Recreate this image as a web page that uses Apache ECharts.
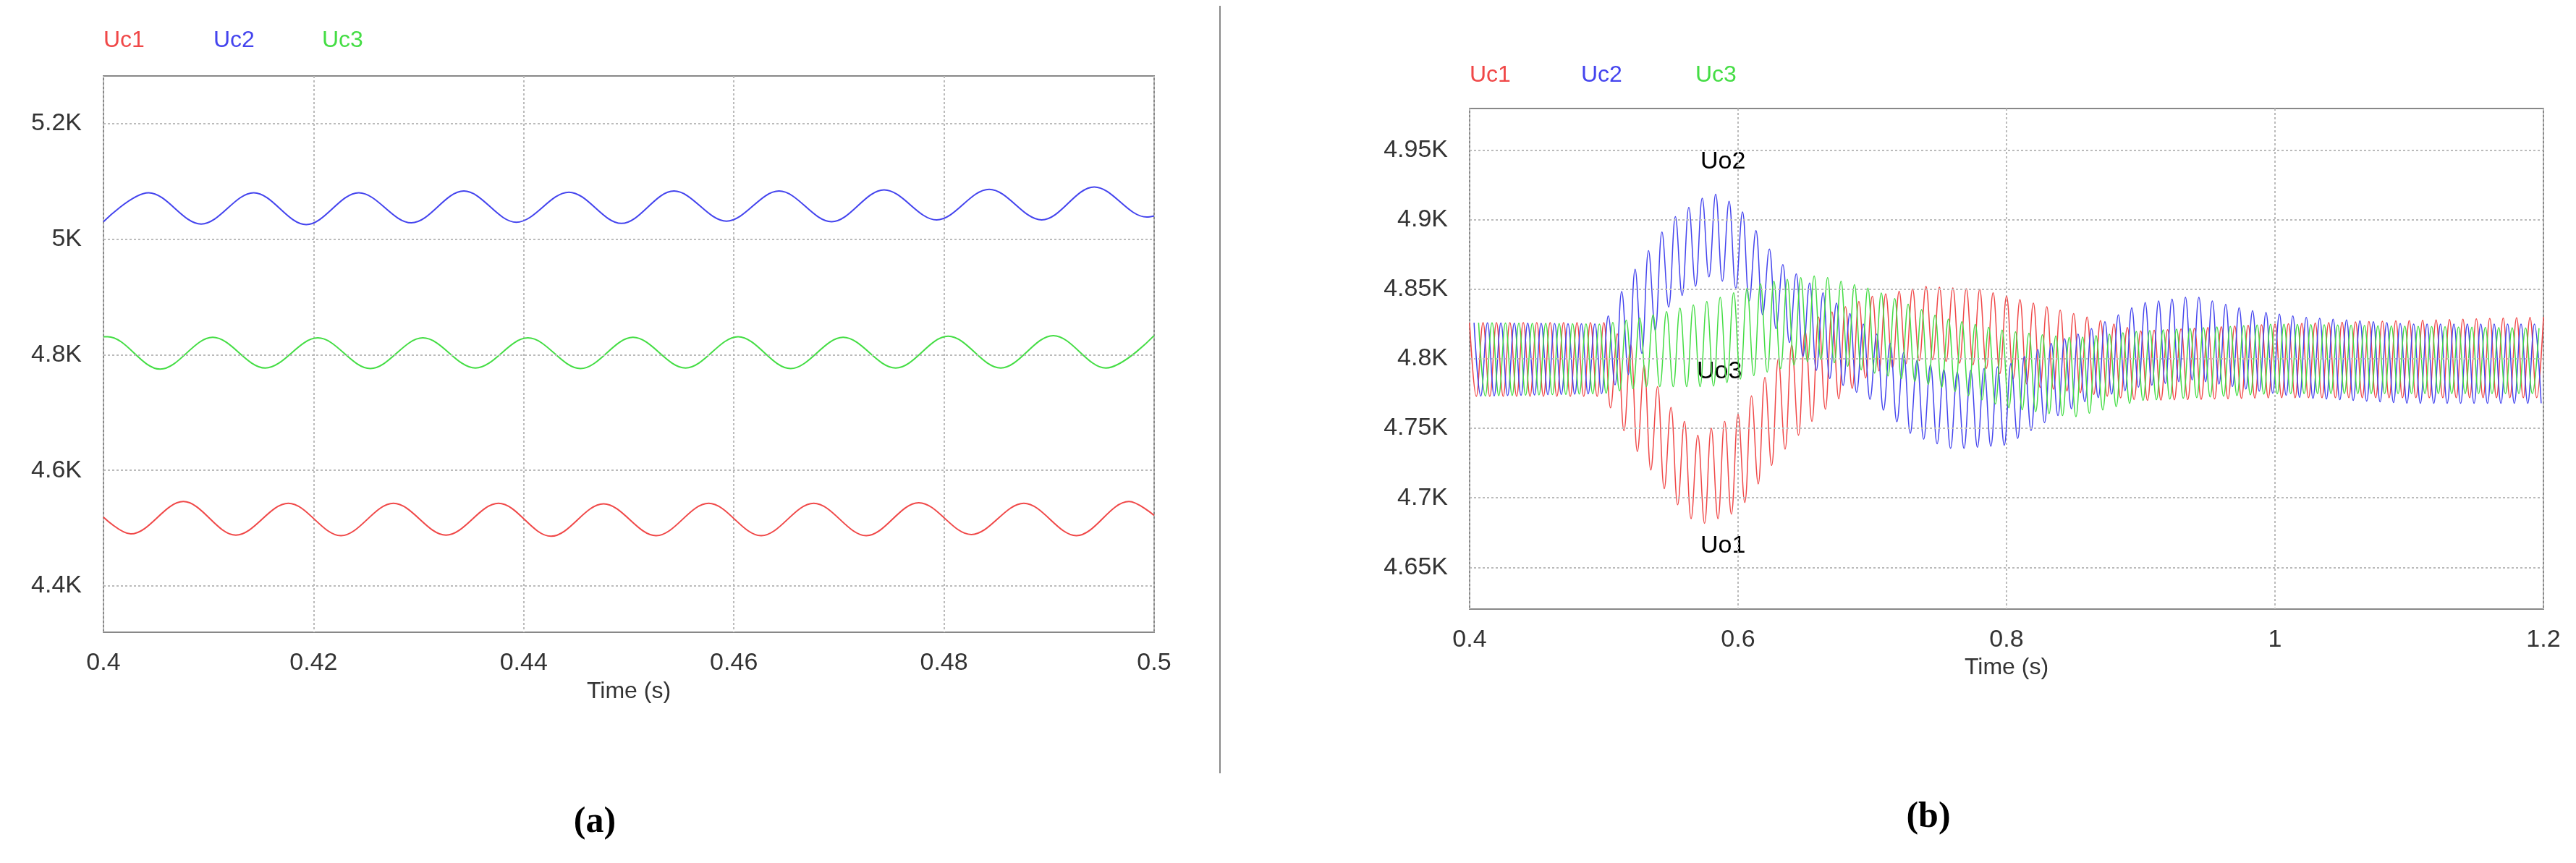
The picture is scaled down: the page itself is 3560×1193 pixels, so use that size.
<!DOCTYPE html><html><head><meta charset="utf-8">
<script src="https://cdn.jsdelivr.net/npm/echarts@6/dist/echarts.min.js"></script>
<style>html,body{margin:0;background:#fff}#c{width:3560px;height:1193px}</style></head><body><div id="c"></div>
<script>
// Chart (a): extreme values (period 0.01 s)
const aPeriod = 0.01;
const aXTicks = [0.4, 0.42, 0.44, 0.46, 0.48, 0.5];
const aYTicks = [4400, 4600, 4800, 5000, 5200];
const uc1FirstPeak = 0.4076, uc1Start = 4519, uc1End = 4522;
const uc1Peaks   = [4546, 4543, 4543, 4543, 4542, 4543, 4543, 4544, 4543, 4546];
const uc1Troughs = [4490, 4488, 4487, 4488, 4486, 4487, 4487, 4487, 4489, 4487];
const uc2FirstPeak = 0.4043, uc2Start = 5030, uc2End = 5040;
const uc2Peaks   = [5080, 5080, 5080, 5083, 5081, 5083, 5083, 5085, 5086, 5090];
const uc2Troughs = [5026, 5025, 5028, 5029, 5027, 5031, 5030, 5033, 5033, 5038];
const uc3FirstPeak = 0.4004, uc3Start = 4831, uc3End = 4833;
const uc3Peaks   = [4831, 4830, 4829, 4829, 4829, 4830, 4831, 4830, 4832, 4833, 4832];
const uc3Troughs = [4775, 4777, 4776, 4777, 4776, 4777, 4776, 4777, 4777, 4777];
// Chart (b): envelopes [time, lower, upper] (100 Hz ripple)
const bPeriod = 0.01;
const uc1Env = [[0.4,4773,4826],[0.5,4773,4826],[0.52,4740,4810],[0.55,4700,4765],[0.57,4680,4745],[0.6,4690,4760],[0.63,4730,4800],[0.66,4760,4830],[0.7,4790,4845],[0.74,4800,4852],[0.78,4795,4850],[0.82,4780,4840],[0.86,4775,4830],[0.9,4770,4820],[1.0,4772,4825],[1.2,4772,4830]];
const uc2Env = [[0.4,4773,4826],[0.5,4775,4825],[0.52,4790,4860],[0.55,4840,4900],[0.58,4860,4920],[0.6,4850,4910],[0.63,4820,4870],[0.66,4790,4850],[0.7,4770,4820],[0.73,4745,4800],[0.76,4735,4790],[0.8,4738,4795],[0.83,4755,4810],[0.86,4770,4820],[0.9,4780,4840],[0.94,4785,4845],[0.98,4778,4835],[1.02,4772,4830],[1.1,4768,4825],[1.2,4768,4825]];
const uc3Env = [[0.4,4773,4826],[0.5,4775,4825],[0.53,4780,4830],[0.58,4780,4842],[0.62,4790,4855],[0.66,4800,4860],[0.7,4790,4850],[0.75,4780,4830],[0.8,4765,4820],[0.85,4758,4815],[0.9,4770,4820],[1.0,4775,4825],[1.2,4775,4822]];
const bPhase = [0, 0.00333, 0.00667];
const bXTicks = [0.4, 0.6, 0.8, 1, 1.2];
const bYTicks = [4650, 4700, 4750, 4800, 4850, 4900, 4950];

function aSeries(start, firstPeak, peaks, troughs, end){
  const pts = [[0.4, start]];
  const firstTrough = firstPeak - aPeriod/2;
  if (firstTrough > 0.4) pts.push([firstTrough, troughs[0]]);
  let ti = firstTrough > 0.4 ? 1 : 0;
  for (let i=0;i<peaks.length;i++){
    const tp = firstPeak + i*aPeriod;
    if (tp > 0.4 && tp < 0.5) pts.push([tp, peaks[i]]);
    const tt = tp + aPeriod/2;
    if (tt < 0.5 && ti < troughs.length) { pts.push([tt, troughs[ti]]); ti++; }
  }
  pts.push([0.5, end]);
  return pts;
}
function envAt(env, t){
  for (let i=1;i<env.length;i++) if (t<=env[i][0]){
    const a=env[i-1], b=env[i], f=(t-a[0])/(b[0]-a[0]);
    return [a[1]+f*(b[1]-a[1]), a[2]+f*(b[2]-a[2])];
  }
  return [env[env.length-1][1], env[env.length-1][2]];
}
function bSeries(env, ph){
  const pts=[]; let k=0;
  for (let t=0.4+ph; t<=1.2; t+=bPeriod/2, k++){
    const e=envAt(env,t); pts.push([+t.toFixed(4), k%2===0? e[1]:e[0]]);
  }
  return pts;
}
const FONT='Liberation Sans';
const kfmt = v => (v/1000)+'K';
function axes(gi, xmin, xmax, xint, ymin, ymax){
  return {
    x:{type:'value',gridIndex:gi,min:xmin,max:xmax,interval:xint,name:'Time (s)',nameLocation:'middle',nameGap:gi===0?66:62,
      nameTextStyle:{fontFamily:FONT,fontSize:32,color:'#333'},
      axisLine:{show:false},axisTick:{show:false},
      axisLabel:{fontFamily:FONT,fontSize:34,color:'#333',margin:26,formatter:v=>String(+v.toFixed(3))},
      splitLine:{show:true,lineStyle:{color:'#bbb',type:[3,3],width:2}}},
    y:{type:'value',gridIndex:gi,min:ymin,max:ymax,interval:(gi===0?40:10),
      axisLine:{show:false},axisTick:{show:false},
      axisLabel:{fontFamily:FONT,fontSize:34,color:'#333',margin:30,
        formatter:v=>(gi===0?aYTicks:bYTicks).some(t=>Math.abs(t-v)<1e-6)?kfmt(v):''},
      splitLine:{show:false}}
  };
}
const A = axes(0,0.4,0.5,0.02,4320,5282);
const B = axes(1,0.4,1.2,0.2,4620,4980);
const RED='#f04848', BLUE='#4444ee', GREEN='#44dd44';
function line(data,color,gi,w,s){return {type:'line',xAxisIndex:gi,yAxisIndex:gi,data,showSymbol:false,smooth:s,lineStyle:{color,width:w},silent:true,animation:false};}
function hlines(gi, vals){return {type:'line',xAxisIndex:gi,yAxisIndex:gi,data:[],markLine:{silent:true,symbol:'none',label:{show:false},lineStyle:{color:'#bbb',type:[3,3],width:2},data:vals.map(v=>({yAxis:v}))}};}
const chart = echarts.init(document.getElementById('c'));
chart.setOption({
  backgroundColor:'#fff', animation:false,
  grid:[{left:143,top:105,width:1452,height:769,show:true,borderColor:'#888',borderWidth:2,backgroundColor:'#fff'},
        {left:2031,top:150,width:1484,height:692,show:true,borderColor:'#888',borderWidth:2,backgroundColor:'#fff'}],
  xAxis:[A.x,B.x], yAxis:[A.y,B.y],
  series:[
    hlines(0,aYTicks), hlines(1,bYTicks),
    line(aSeries(uc1Start,uc1FirstPeak,uc1Peaks,uc1Troughs,uc1End),RED,0,2,0.35),
    line(aSeries(uc2Start,uc2FirstPeak,uc2Peaks,uc2Troughs,uc2End),BLUE,0,2,0.35),
    line(aSeries(uc3Start,uc3FirstPeak,uc3Peaks,uc3Troughs,uc3End),GREEN,0,2,0.35),
    line(bSeries(uc1Env,bPhase[0]),RED,1,1.5,0.4),
    line(bSeries(uc2Env,bPhase[1]),BLUE,1,1.5,0.4),
    line(bSeries(uc3Env,bPhase[2]),GREEN,1,1.5,0.4)
  ],
  graphic:[
    {type:'line',shape:{x1:1686,y1:8,x2:1686,y2:1069},style:{stroke:'#888',lineWidth:2}},
    {type:'text',x:143,y:40,style:{text:'Uc1',fill:RED,font:'32px '+FONT}},
    {type:'text',x:295,y:40,style:{text:'Uc2',fill:BLUE,font:'32px '+FONT}},
    {type:'text',x:445,y:40,style:{text:'Uc3',fill:GREEN,font:'32px '+FONT}},
    {type:'text',x:2031,y:88,style:{text:'Uc1',fill:RED,font:'32px '+FONT}},
    {type:'text',x:2185,y:88,style:{text:'Uc2',fill:BLUE,font:'32px '+FONT}},
    {type:'text',x:2343,y:88,style:{text:'Uc3',fill:GREEN,font:'32px '+FONT}},
    {type:'text',x:2350,y:207,style:{text:'Uo2',fill:'#000',font:'34px '+FONT}},
    {type:'text',x:2345,y:497,style:{text:'Uo3',fill:'#000',font:'34px '+FONT}},
    {type:'text',x:2350,y:738,style:{text:'Uo1',fill:'#000',font:'34px '+FONT}},
    {type:'text',x:822,y:1137,style:{text:'(a)',fill:'#000',font:'bold 50px "Liberation Serif"',textAlign:'center',textVerticalAlign:'middle'}},
    {type:'text',x:2665,y:1130,style:{text:'(b)',fill:'#000',font:'bold 50px "Liberation Serif"',textAlign:'center',textVerticalAlign:'middle'}}
  ]
});
</script></body></html>
